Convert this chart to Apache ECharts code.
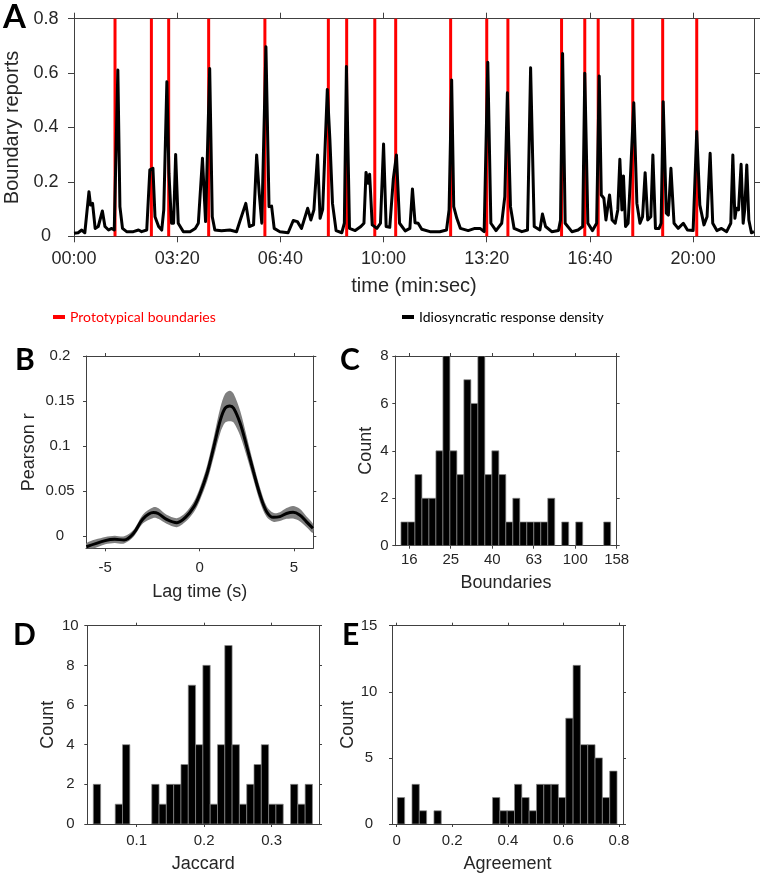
<!DOCTYPE html>
<html>
<head>
<meta charset="UTF-8">
<title>Event boundaries</title>
<script src="https://cdn.jsdelivr.net/npm/echarts@6.0.0/dist/echarts.min.js"></script>
</head>
<body style="margin:0;background:#fff">
<div id="main" style="width:762px;height:874px;"></div>
<script>
// ---- A: prototypical boundaries (s) and idiosyncratic response density
var boundaryTimes = [79.5, 150, 183.5, 261, 370, 493, 528.5, 583, 623.5, 730, 800, 841, 945, 990, 1016, 1083, 1141, 1207];

var densityTime = [
  0, 8, 15, 21, 29, 32, 36, 41, 47, 55,
  60, 67, 73, 78, 85, 89, 94, 102, 115, 125,
  131, 141, 147, 153, 157, 164, 170, 174, 180, 184,
  189, 193, 197, 202, 212, 225, 235, 241, 249, 255,
  258, 263, 268, 273, 286, 302, 315, 322, 333, 340,
  348, 354, 359, 364, 372, 378, 383, 388, 399, 415,
  425, 433, 441, 453, 459, 465, 472, 477, 482, 491,
  496, 501, 508, 519, 524, 528, 534, 545, 556, 562,
  566, 570, 573, 578, 587, 594, 600, 605, 612, 619,
  625, 631, 642, 651, 656, 661, 667, 674, 690, 709,
  722, 727, 732, 736, 742, 749, 764, 777, 787, 795,
  802, 808, 818, 829, 835, 840, 846, 853, 868, 879,
  885, 892, 903, 908, 914, 926, 939, 943, 947, 952,
  965, 977, 986, 990, 996, 1005, 1013, 1018, 1022, 1027,
  1031, 1038, 1043, 1049, 1054, 1058, 1062, 1065, 1069, 1074,
  1078, 1085, 1091, 1097, 1102, 1107, 1112, 1118, 1122, 1127,
  1134, 1138, 1142, 1148, 1152, 1157, 1163, 1171, 1181, 1189,
  1200, 1207, 1213, 1221, 1227, 1233, 1238, 1246, 1255, 1265,
  1273, 1277, 1281, 1284, 1288, 1293, 1297, 1300, 1304, 1308,
  1313, 1318
];
var densityValue = [
  0.011, 0.013, 0.023, 0.013, 0.164, 0.115, 0.121, 0.029, 0.036, 0.093,
  0.036, 0.023, 0.029, 0.023, 0.611, 0.109, 0.029, 0.017, 0.017, 0.023,
  0.017, 0.023, 0.244, 0.25, 0.072, 0.036, 0.023, 0.097, 0.568, 0.232,
  0.048, 0.048, 0.301, 0.048, 0.017, 0.017, 0.029, 0.048, 0.287, 0.054,
  0.06, 0.617, 0.072, 0.023, 0.02, 0.023, 0.017, 0.058, 0.121, 0.036,
  0.042, 0.299, 0.158, 0.048, 0.697, 0.109, 0.111, 0.029, 0.017, 0.013,
  0.058, 0.054, 0.029, 0.103, 0.06, 0.097, 0.299, 0.066, 0.099, 0.54,
  0.354, 0.121, 0.021, 0.013, 0.048, 0.624, 0.029, 0.021, 0.036, 0.048,
  0.235, 0.195, 0.228, 0.042, 0.029, 0.048, 0.339, 0.036, 0.033, 0.213,
  0.299, 0.048, 0.02, 0.029, 0.174, 0.05, 0.048, 0.026, 0.017, 0.017,
  0.023, 0.097, 0.575, 0.109, 0.066, 0.029, 0.021, 0.029, 0.029, 0.017,
  0.64, 0.048, 0.021, 0.048, 0.146, 0.528, 0.109, 0.029, 0.017, 0.023,
  0.62, 0.036, 0.023, 0.082, 0.036, 0.017, 0.021, 0.06, 0.672, 0.048,
  0.017, 0.023, 0.036, 0.599, 0.048, 0.021, 0.048, 0.589, 0.152, 0.14,
  0.06, 0.152, 0.06, 0.048, 0.097, 0.283, 0.097, 0.222, 0.036, 0.048,
  0.197, 0.491, 0.121, 0.048, 0.072, 0.234, 0.06, 0.072, 0.299, 0.029,
  0.029, 0.048, 0.495, 0.085, 0.078, 0.25, 0.048, 0.029, 0.048, 0.023,
  0.021, 0.385, 0.115, 0.042, 0.072, 0.305, 0.048, 0.021, 0.029, 0.017,
  0.048, 0.299, 0.066, 0.103, 0.097, 0.265, 0.048, 0.097, 0.262, 0.06,
  0.013, 0.017
];
var timeTicks = [0, 200, 400, 600, 800, 1000, 1200];

// ---- B: cross-correlation, mean and s.e.m.
var lagTime = [-6, -5, -4.5, -4, -3.5, -3, -2.45, -2.2, -1.75, -1.2, -0.75, -0.3, 0, 0.4, 0.75, 1.1,
  1.35, 1.6, 1.8, 2.15, 2.5, 2.85, 3.2, 3.55, 3.9, 4.25, 4.6, 4.95, 5.3, 5.65, 6];
var pearsonR = [-0.012, -0.0052, -0.0037, -0.0044, 0.003, 0.019, 0.026, 0.025, 0.0185, 0.0148, 0.0207,
  0.0326, 0.046, 0.07, 0.099, 0.129, 0.142, 0.1445, 0.142, 0.125, 0.099, 0.0715, 0.0456, 0.027,
  0.0207, 0.0215, 0.025, 0.0263, 0.0233, 0.016, 0.0085];
var pearsonSem = [0.004, 0.004, 0.004, 0.004, 0.004, 0.005, 0.006, 0.006, 0.005, 0.005, 0.005,
  0.006, 0.007, 0.009, 0.011, 0.014, 0.016, 0.017, 0.016, 0.014, 0.011, 0.009, 0.008, 0.006,
  0.005, 0.005, 0.006, 0.007, 0.007, 0.006, 0.005];

// ---- C: boundaries per participant (log10 bins)
var boundaryCounts = [1, 1, 3, 2, 2, 4, 8, 4, 3, 7, 6, 8, 3, 4, 3, 1, 2, 1, 1, 1, 1, 2, 0, 1, 0, 1, 0, 0, 0, 1];
var boundaryBin = [1.16, 0.0337];          // first edge, width (log10 units)
var boundaryTicks = [1.2, 1.4, 1.6, 1.8, 2.0, 2.2];

// ---- D: Jaccard
var jaccardCounts = [2, 0, 0, 1, 4, 0, 0, 0, 2, 1, 2, 2, 3, 7, 4, 8, 1, 4, 9, 4, 1, 2, 3, 4, 1, 1, 0, 2, 1, 2];
var jaccardBin = [0.0358, 0.01082];

// ---- E: agreement
var agreementCounts = [2, 0, 3, 1, 0, 1, 0, 0, 0, 0, 0, 0, 0, 2, 1, 1, 3, 2, 1, 3, 3, 3, 2, 8, 12, 6, 6, 5, 2, 4];
var agreementBin = [0.0024, 0.02635];

var chart = echarts.init(document.getElementById('main'));
var FONT = 'Liberation Sans';
var LINE = '#404040';
var TXT = '#262626';
var grids = [], xAxes = [], yAxes = [];

function pad(n) { return (n < 10 ? '0' : '') + n; }
function mmss(v) { return pad(Math.floor(v / 60)) + ':' + pad(Math.round(v % 60)); }

function addPanel(box, o) {
  var g = grids.length;
  grids.push({left: box[0], top: box[1], width: box[2], height: box[3], outerBoundsMode: 'none', containLabel: false});
  function axis(isX, pos, main) {
    var ticks = isX ? o.xTicks : o.yTicks;
    var a = {
      gridIndex: g, type: 'value', position: pos,
      min: isX ? o.x[0] : o.y[0], max: isX ? o.x[1] : o.y[1],
      splitLine: {show: false},
      axisLine: {show: true, onZero: false, lineStyle: {color: LINE, width: 1}},
      axisTick: {show: true, customValues: ticks, length: o.tick, lineStyle: {color: LINE, width: 1}},
      axisLabel: {show: false}
    };
    if (main) {
      a.axisLabel = {
        show: true, customValues: ticks, formatter: isX ? o.xFmt : o.yFmt,
        fontFamily: FONT, fontSize: o.tickFont, color: TXT,
        margin: isX ? o.xMargin : o.yMargin
      };
      if (!isX) a.axisLabel.align = 'center';
      a.name = isX ? o.xName : o.yName;
      a.nameLocation = 'middle';
      a.nameGap = isX ? o.xNameGap : o.yNameGap;
      a.nameTextStyle = {fontFamily: FONT, fontSize: o.nameFont, color: TXT};
    }
    return a;
  }
  xAxes.push(axis(true, 'bottom', true), axis(true, 'top', false));
  yAxes.push(axis(false, 'left', true), axis(false, 'right', false));
  return 2 * g;
}

function histSeries(ax, bin, counts) {
  var data = counts.map(function (c, i) { return [bin[0] + i * bin[1], c]; });
  return {
    type: 'custom', xAxisIndex: ax, yAxisIndex: ax, data: data, encode: {x: 0, y: 1}, clip: true,
    renderItem: function (params, api) {
      var c = api.value(1);
      if (!c) return {type: 'group', children: []};
      var x0 = api.value(0);
      var a = api.coord([x0, 0]), b = api.coord([x0 + bin[1], c]);
      return {
        type: 'rect',
        shape: {x: a[0], y: b[1], width: b[0] - a[0], height: a[1] - b[1]},
        style: {fill: '#000', stroke: '#8a8a8a', lineWidth: 0.7}
      };
    }
  };
}

var axA = addPanel([74, 18.7, 680, 217.6], {
  x: [0, 1318], y: [0, 0.8], xTicks: timeTicks, yTicks: [0, 0.2, 0.4, 0.6, 0.8],
  xFmt: mmss, tick: 6, tickFont: 18, nameFont: 20, xMargin: 14, yMargin: 28,
  xName: 'time (min:sec)', xNameGap: 40, yName: 'Boundary reports', yNameGap: 40
});
var axB = addPanel([86, 356, 227.3, 192.3], {
  x: [-6.02, 6.02], y: [-0.0137, 0.2], xTicks: [-5, 0, 5], yTicks: [0, 0.05, 0.1, 0.15, 0.2],
  tick: 3, tickFont: 15, nameFont: 18, xMargin: 12, yMargin: 26,
  xName: 'Lag time (s)', xNameGap: 35, yName: 'Pearson r', yNameGap: 48
});
var axC = addPanel([395.3, 356, 221.4, 189.7], {
  x: [1.1327, 2.2], y: [0, 8], xTicks: boundaryTicks, yTicks: [0, 2, 4, 6, 8],
  xFmt: function (v) { return String(Math.round(Math.pow(10, v))); },
  tick: 3, tickFont: 15, nameFont: 18, xMargin: 7, yMargin: 11,
  xName: 'Boundaries', xNameGap: 28, yName: 'Count', yNameGap: 20
});
var axD = addPanel([87.3, 625.7, 231.7, 198.3], {
  x: [0.0269, 0.3701], y: [0, 10], xTicks: [0.1, 0.2, 0.3], yTicks: [0, 2, 4, 6, 8, 10],
  tick: 3, tickFont: 15, nameFont: 18, xMargin: 9, yMargin: 17,
  xName: 'Jaccard', xNameGap: 31, yName: 'Count', yNameGap: 30
});
var axE = addPanel([392, 625.7, 231, 198.3], {
  x: [-0.0168, 0.8144], y: [0, 15], xTicks: [0, 0.2, 0.4, 0.6, 0.8], yTicks: [0, 5, 10, 15],
  tick: 3, tickFont: 15, nameFont: 18, xMargin: 9, yMargin: 23,
  xName: 'Agreement', xNameGap: 31, yName: 'Count', yNameGap: 33
});

var densityData = densityTime.map(function (t, i) { return [t, densityValue[i]]; });
var meanData = lagTime.map(function (t, i) { return [t, pearsonR[i]]; });

function letter(ch, x, y, size) {
  return {type: 'text', x: x, y: y, style: {text: ch, fontFamily: 'Lato', fontWeight: 'bold', fontSize: size, fill: '#000', verticalAlign: 'middle'}};
}

var option = {
  animation: false,
  backgroundColor: '#fff',
  grid: grids,
  xAxis: xAxes,
  yAxis: yAxes,
  legend: [
    {left: 48, top: 305, selectedMode: false, icon: 'rect', itemWidth: 12, itemHeight: 4,
      textStyle: {fontFamily: 'Lato', fontSize: 14},
      data: [{name: 'Prototypical boundaries', textStyle: {color: '#ff0000'}}]},
    {left: 397, top: 305, selectedMode: false, icon: 'rect', itemWidth: 12, itemHeight: 4,
      textStyle: {fontFamily: 'Lato', fontSize: 14, color: '#000'},
      data: ['Idiosyncratic response density']}
  ],
  graphic: [
    letter('A', 3, 17, 33), letter('B', 15, 360, 30), letter('C', 340, 360, 30),
    letter('D', 13, 635, 30), letter('E', 342, 635, 30)
  ],
  series: [
    {
      name: 'Prototypical boundaries', type: 'custom', xAxisIndex: axA, yAxisIndex: axA,
      itemStyle: {color: '#ff0000'}, z: 1, encode: {x: 0, y: 1},
      data: boundaryTimes.map(function (t) { return [t, 0.8]; }),
      renderItem: function (params, api) {
        var a = api.coord([api.value(0), 0]), b = api.coord([api.value(0), 0.8]);
        return {type: 'line', shape: {x1: a[0], y1: a[1], x2: b[0], y2: b[1]}, style: {stroke: '#ff0000', lineWidth: 3}};
      }
    },
    {
      name: 'Idiosyncratic response density', type: 'line', xAxisIndex: axA, yAxisIndex: axA,
      data: densityData, showSymbol: false, symbol: 'none', z: 3,
      itemStyle: {color: '#000'}, lineStyle: {color: '#000', width: 3, join: 'round'}
    },
    {
      // s.e.m. band: upper edge forward, lower edge back
      type: 'custom', xAxisIndex: axB, yAxisIndex: axB, data: [[0, 0]], encode: {x: 0, y: 1},
      clip: true, z: 2,
      renderItem: function (params, api) {
        var pts = [], i;
        for (i = 0; i < lagTime.length; i++) pts.push(api.coord([lagTime[i], pearsonR[i] + pearsonSem[i]]));
        for (i = lagTime.length - 1; i >= 0; i--) pts.push(api.coord([lagTime[i], pearsonR[i] - pearsonSem[i]]));
        return {type: 'polygon', shape: {points: pts, smooth: 0.3}, style: {fill: '#7f7f7f'}};
      }
    },
    {
      type: 'line', xAxisIndex: axB, yAxisIndex: axB, data: meanData, symbol: 'none', smooth: 0.35,
      lineStyle: {color: '#000', width: 3}, z: 4
    },
    histSeries(axC, boundaryBin, boundaryCounts),
    histSeries(axD, jaccardBin, jaccardCounts),
    histSeries(axE, agreementBin, agreementCounts)
  ]
};
chart.setOption(option);
</script>
</body>
</html>
